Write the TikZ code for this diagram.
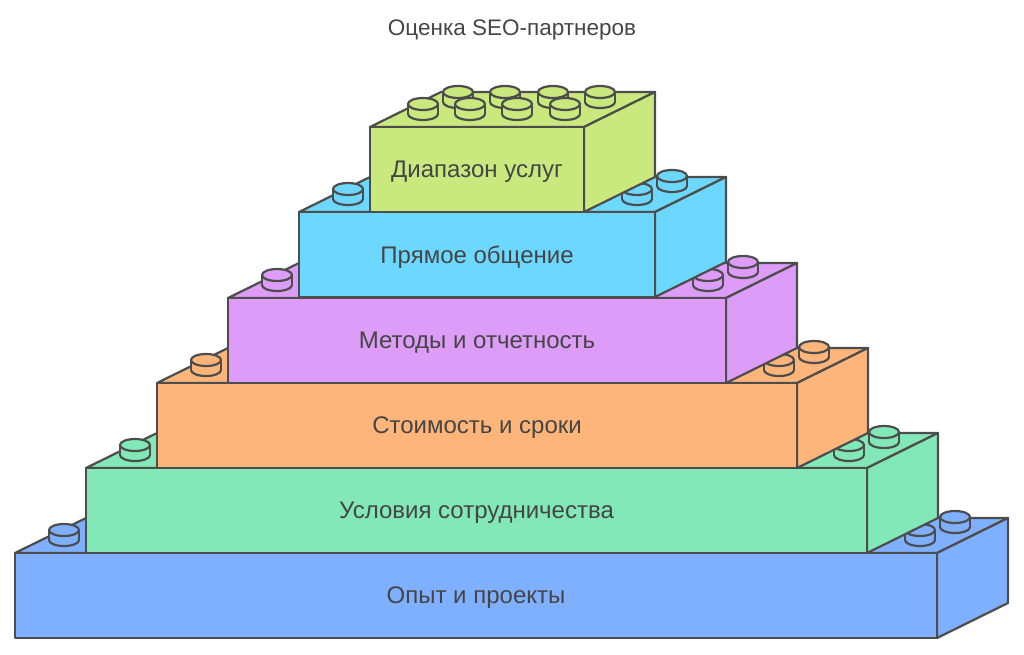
\documentclass[tikz,border=0pt]{standalone}
\usepackage{fontspec}
\setmainfont{Liberation Sans}
\definecolor{ln}{HTML}{4D4D4D}
\definecolor{cA}{HTML}{7EB0FF}
\definecolor{cB}{HTML}{82E8B8}
\definecolor{cC}{HTML}{FDB57A}
\definecolor{cD}{HTML}{DC9CF8}
\definecolor{cE}{HTML}{6DD8FF}
\definecolor{cF}{HTML}{C9E87E}
\tikzset{edge/.style={draw=ln,line width=2.2pt,line join=round},
lbl/.style={text=ln!90!black,font=\fontsize{24}{28}\selectfont}}
\newcommand\mystud[3]{% x y color
 \draw[edge,fill=#3] (#1,#2+10) ellipse[x radius=15,y radius=6];
 \fill[#3] (#1-15,#2) rectangle (#1+15,#2+10);
 \draw[edge] (#1-15,#2) -- (#1-15,#2+10) (#1+15,#2) -- (#1+15,#2+10);
 \draw[edge,fill=#3] (#1,#2) ellipse[x radius=15,y radius=6];}
\newcommand\mybrick[6]{% L R T color text name
 \draw[edge,fill=#4] (#1,#3) -- (#2,#3) -- (#2+71,#3-35) -- (#1+71,#3-35) -- cycle;
 \draw[edge,fill=#4] (#2,#3) -- (#2+71,#3-35) -- (#2+71,#3+50) -- (#2,#3+85) -- cycle;
 \draw[edge,fill=#4] (#1,#3) rectangle (#2,#3+85);
 \node[lbl] (#6) at ({(#1+#2)/2},#3+45) {#5};}
\begin{document}
\begin{tikzpicture}[x=1pt,y=-1pt]
\useasboundingbox (0,0) rectangle (1024,654);
\node[text=ln!90!black,font=\fontsize{22.5}{26}\selectfont] (title) at (512,30) {Оценка SEO-партнеров};
\mybrick{15}{937}{553}{cA}{Опыт и проекты}{b1}
\mystud{64}{530}{cA}\mystud{920}{530}{cA}\mystud{955}{517}{cA}
\mybrick{86}{867}{468}{cB}{Условия сотрудничества}{b2}
\mystud{135}{445}{cB}\mystud{849}{445}{cB}\mystud{884}{432}{cB}
\mybrick{157}{797}{383}{cC}{Стоимость и сроки}{b3}
\mystud{206}{360}{cC}\mystud{779}{360}{cC}\mystud{814}{347}{cC}
\mybrick{228}{726}{298}{cD}{Методы и отчетность}{b4}
\mystud{277}{275}{cD}\mystud{708}{275}{cD}\mystud{743}{262}{cD}
\mybrick{299}{655}{212}{cE}{Прямое общение}{b5}
\mystud{348}{189}{cE}\mystud{637}{189}{cE}\mystud{672}{176}{cE}
\mybrick{370}{584}{127}{cF}{Диапазон услуг}{b6}
\mystud{458}{92}{cF}\mystud{505}{92}{cF}\mystud{553}{92}{cF}\mystud{600}{92}{cF}
\mystud{423}{104}{cF}\mystud{470}{104}{cF}\mystud{517}{104}{cF}\mystud{565}{104}{cF}
\end{tikzpicture}
\end{document}
